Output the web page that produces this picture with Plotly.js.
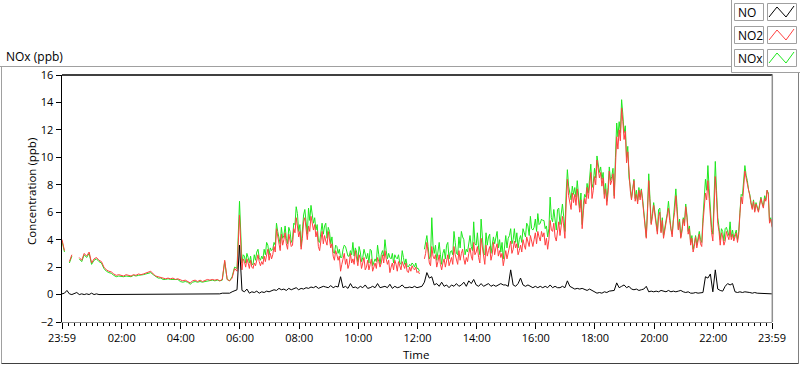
<!DOCTYPE html>
<html>
<head>
<meta charset="utf-8">
<script src="https://cdn.plot.ly/plotly-3.0.1.min.js"></script>
<style>
  html, body { margin: 0; padding: 0; background: #fff; }
  #chart { width: 800px; height: 365px; }
</style>
</head>
<body>
<div id="chart"></div>
<script>
// ---- Data (5-minute samples starting at 23:59; extra half-step samples read for the noisy part) ----
const startLabel = '23:59';
const stepMinutes = 5;
const seriesNames = ['NO', 'NO2', 'NOx'];
const tickLabels = ['23:59','02:00','04:00','06:00','08:00','10:00','12:00','14:00','16:00','18:00','20:00','22:00','23:59'];

const no2 = [
  4.0, 3.2, null, 2.4, 2.9, null, null, 2.7, 2.5, 3.0,
  2.8, 3.1, 2.3, 2.6, 2.7, 2.5, 2.4, 2.0, 1.8, 1.7,
  1.65, 1.5, 1.4, 1.45, 1.4, 1.35, 1.45, 1.4, 1.35, 1.45,
  1.4, 1.5, 1.45, 1.5, 1.55, 1.6, 1.7, 1.5, 1.35, 1.3,
  1.25, 1.2, 1.15, 1.2, 1.15, 1.2, 1.1, 1.15, 1.05, 1.0,
  1.05, 0.95, 0.85, 1.0, 1.05, 0.95, 1.05, 0.95, 1.0, 1.1,
  1.05, 1.1, 1.05, 1.1, 1.0, 1.1, 2.5, 1.1, 1.0, 1.2,
  1.9, 1.7, 5.8, 1.8, 2.4, 2.6, 1.9, 2.0, 2.3, 2.6,
  2.4, 2.4, 2.8, 2.9, 2.5, 2.6, 3.5, 4.8, 3.7, 4.4,
  4.0, 3.7, 4.4, 3.5, 4.8, 5.6, 4.2, 3.3, 5.3, 4.6,
  5.0, 5.7, 4.7, 4.2, 3.5, 4.2, 3.7, 3.9, 4.6, 3.4,
  2.8, 3.2, 2.5, 1.7, 2.7, 2.2, 1.9, 3.0, 2.6, 3.2,
  2.1, 2.6, 2.3, 1.8, 2.5, 2.2, 1.7, 2.3, 2.7, 2.0,
  2.9, 3.2, 2.2, 1.6, 2.3, 2.5, 1.7, 2.1, 2.4, 1.9,
  1.7, 2.0, 2.1, 1.8, 1.6, 1.5, null, 2.6, 3.8, 2.3,
  3.5, 2.6, 2.0, 2.9, 1.8, 2.6, 2.5, 2.1, 2.7, 3.5,
  2.5, 3.2, 3.0, 2.6, 2.7, 3.0, 2.8, 3.8, 3.1, 2.7,
  4.1, 2.6, 3.6, 3.2, 2.5, 3.8, 3.4, 2.8, 2.7, 2.1,
  3.2, 3.1, 3.9, 3.3, 3.4, 2.9, 3.6, 4.0, 3.3, 3.9,
  4.3, 3.5, 4.5, 4.6, 3.9, 4.2, 3.6, 3.3, 5.4, 4.6,
  4.2, 4.9, 4.3, 5.7, 4.1, 8.4, 6.8, 7.4, 7.3, 7.7,
  6.0, 4.8, 7.0, 7.8, 8.0, 7.0, 8.6, 9.8, 8.5, 7.9,
  7.0, 6.5, 9.0, 8.3, 7.0, 11.5, 12.0, 13.6, 11.3, 9.6,
  8.4, 6.9, 8.3, 7.3, 7.6, 7.6, 5.9, 4.1, 8.3, 5.1,
  6.5, 4.9, 5.7, 4.5, 4.1, 5.0, 6.3, 4.6, 5.4, 7.2,
  4.7, 4.1, 5.5, 6.4, 4.4, 3.6, 3.1, 4.2, 4.0, 3.7,
  5.2, 7.4, 8.3, 5.6, 3.9, 8.6, 5.2, 3.6, 4.2, 3.9,
  4.3, 4.7, 4.4, 4.2, 3.8, 5.9, 6.6, 9.0, 8.1, 7.2,
  6.2, 6.0, 6.3, 6.5, 6.6, 7.0, 7.6, 5.2, 4.9
];

const nox = [
  3.9, 3.1, null, 2.3, 2.8, null, null, 2.6, 2.4, 2.9,
  2.7, 3.0, 2.2, 2.5, 2.6, 2.4, 2.3, 1.9, 1.7, 1.6,
  1.55, 1.4, 1.3, 1.35, 1.3, 1.3, 1.35, 1.3, 1.3, 1.4,
  1.35, 1.4, 1.4, 1.45, 1.5, 1.55, 1.6, 1.45, 1.3, 1.2,
  1.2, 1.1, 1.1, 1.15, 1.1, 1.1, 1.05, 1.1, 0.95, 0.9,
  0.95, 0.9, 0.75, 0.9, 0.95, 0.9, 0.95, 0.9, 0.95, 1.0,
  1.0, 1.05, 1.0, 1.05, 1.0, 1.05, 2.4, 1.1, 1.0, 1.3,
  2.0, 1.9, 6.8, 2.3, 2.8, 3.0, 2.3, 2.2, 2.9, 3.1,
  2.7, 2.8, 3.3, 3.8, 2.9, 3.2, 3.8, 5.2, 4.0, 4.9,
  4.3, 4.1, 4.9, 3.8, 5.2, 6.4, 4.6, 3.5, 5.8, 5.0,
  6.3, 6.5, 5.2, 4.7, 3.9, 4.6, 4.4, 5.2, 4.9, 3.7,
  3.1, 3.6, 3.0, 2.7, 3.3, 3.5, 2.8, 3.2, 3.8, 3.4,
  2.4, 3.1, 2.7, 2.9, 3.0, 3.3, 2.1, 2.6, 3.6, 2.2,
  3.2, 4.0, 2.6, 2.7, 3.0, 2.9, 2.6, 2.3, 3.2, 2.2,
  2.1, 2.2, 2.3, 2.0, 1.9, 1.7, null, 3.3, 4.3, 2.6,
  5.6, 3.0, 2.5, 3.8, 2.2, 3.3, 3.6, 2.6, 3.2, 4.6,
  3.0, 4.2, 4.6, 4.0, 3.3, 3.6, 3.5, 5.3, 3.6, 3.4,
  5.5, 3.0, 4.5, 4.2, 3.0, 4.2, 4.2, 3.4, 3.1, 2.6,
  4.3, 4.1, 4.8, 4.0, 3.8, 3.4, 4.3, 4.8, 4.2, 5.0,
  5.7, 4.7, 5.5, 5.9, 5.2, 5.4, 4.8, 4.2, 7.1, 5.3,
  5.2, 6.2, 5.1, 6.6, 4.6, 9.1, 7.3, 7.9, 7.8, 8.3,
  6.3, 5.1, 7.3, 8.1, 8.9, 7.8, 9.2, 10.1, 8.9, 8.4,
  7.3, 6.8, 9.3, 8.6, 7.2, 12.5, 12.6, 14.2, 11.8, 10.0,
  8.5, 7.0, 8.4, 7.6, 7.8, 7.7, 6.0, 4.2, 8.8, 5.2,
  6.7, 5.0, 6.2, 4.6, 4.3, 5.2, 6.8, 4.8, 5.6, 7.7,
  4.8, 4.2, 5.6, 6.6, 4.6, 3.8, 3.3, 4.3, 4.2, 4.0,
  5.6, 8.4, 9.4, 6.1, 4.4, 9.7, 5.6, 4.0, 4.6, 4.8,
  4.5, 5.3, 4.7, 4.4, 4.0, 6.0, 7.2, 9.4, 8.3, 7.3,
  6.3, 6.1, 6.4, 6.6, 6.7, 7.2, 7.6, 5.3, 5.0
];

const no = [
  0.05, 0.1, 0.3, 0.05, 0.0, 0.05, 0.15, 0.0, 0.05, 0.0,
  0.05, 0.0, 0.1, 0.0, 0.05, 0.0, 0.0, 0.05, 0.0, 0.0,
  0.0, 0.0, 0.0, 0.0, 0.0, 0.0, 0.0, 0.0, 0.0, 0.0,
  0.05, 0.0, 0.05, 0.0, 0.0, 0.05, 0.0, 0.05, 0.0, 0.0,
  0.05, 0.0, 0.0, 0.0, 0.05, 0.0, 0.0, 0.0, 0.05, 0.0,
  0.0, 0.05, 0.05, 0.0, 0.05, 0.0, 0.05, 0.0, 0.0, 0.05,
  0.0, 0.0, 0.05, 0.0, 0.05, 0.1, 0.1, 0.15, 0.1, 0.2,
  0.25, 0.35, 3.6, 0.3, 0.2, 0.4, 0.1, 0.2, 0.15, 0.25,
  0.1, 0.2, 0.15, 0.25, 0.2, 0.3, 0.35, 0.3, 0.45, 0.35,
  0.4, 0.3, 0.45, 0.35, 0.4, 0.5, 0.35, 0.45, 0.4, 0.5,
  0.45, 0.55, 0.5, 0.6, 0.45, 0.5, 0.6, 0.55, 0.5, 0.65,
  0.5, 0.6, 0.55, 1.3, 0.5, 0.6, 0.45, 0.8, 0.5, 0.55,
  0.45, 0.6, 0.5, 0.7, 0.45, 0.5, 0.6, 0.5, 0.8, 0.5,
  0.55, 0.6, 0.5, 0.75, 0.45, 0.6, 0.5, 0.55, 0.7, 0.5,
  0.5, 0.55, 0.5, 0.6, 0.5, 0.55, 0.6, 0.9, 1.6, 1.2,
  1.3, 0.7, 0.8, 0.6, 0.9, 0.6, 0.7, 0.5, 0.7, 0.6,
  0.8, 0.6, 0.7, 0.9, 0.6, 1.0, 0.8, 1.1, 0.7, 0.6,
  0.8, 0.6, 0.7, 0.8, 0.6, 0.7, 0.6, 0.7, 0.8, 0.7,
  0.7, 0.6, 1.8, 0.7, 0.6, 0.8, 1.2, 0.7, 0.6, 0.7,
  0.6, 0.5, 0.6, 0.5, 0.6, 0.5, 0.6, 0.5, 0.7, 0.5,
  0.6, 0.5, 0.5, 0.6, 0.5, 1.0, 0.6, 0.5, 0.4, 0.45,
  0.4, 0.45, 0.35, 0.3, 0.4, 0.3, 0.2, 0.1, 0.15, 0.1,
  0.2, 0.15, 0.25, 0.3, 0.3, 0.85, 0.5, 0.6, 0.7, 0.5,
  0.6, 0.4, 0.35, 0.4, 0.3, 0.35, 0.4, 0.6, 0.2, 0.25,
  0.2, 0.25, 0.2, 0.3, 0.25, 0.2, 0.3, 0.2, 0.25, 0.2,
  0.25, 0.3, 0.2, 0.15, 0.2, 0.1, 0.1, 0.15, 0.1, 0.1,
  0.15, 1.3, 1.2, 1.5, 0.2, 1.8, 0.4, 0.3, 0.25, 0.6,
  0.8, 0.7, 0.8, 0.2, 0.15, 0.2, 0.15, 0.2, 0.2, 0.15,
  0.1, 0.15, 0.1, 0.1, 0.05, 0.1, 0.05, 0.1, 0.05
];

// half-step samples (at +2.5 min) from sample index 73 onward
const midStart = 73;
const no2Mid = [
  2.6, 2.0, 2.3, 2.5, 1.9, 2.1, 2.9, 2.1, 2.2,
  2.4, 3.3, 3.0, 2.9, 3.1, 4.2, 3.2, 3.6, 4.5, 3.3,
  4.0, 3.6, 4.5, 5.0, 4.6, 4.1, 5.6, 4.0, 4.6, 5.2,
  5.1, 4.6, 3.2, 4.6, 4.3, 3.6, 4.1, 3.7, 2.5, 2.9,
  2.8, 2.2, 3.0, 2.6, 2.2, 2.3, 2.2, 2.7, 2.9, 1.9,
  2.7, 2.0, 1.8, 2.6, 2.0, 1.9, 2.4, 2.3, 2.3, 2.6,
  2.5, 2.0, 1.8, 2.2, 2.4, 1.8, 2.2, 2.3, 1.6, 1.7,
  1.9, 2.0, 1.7, null, null, 3.0, 2.9, 2.1, 2.8, 2.9,
  2.4, 2.2, 2.3, 2.0, 2.9, 2.4, 2.2, 2.9, 2.2, 2.5,
  3.3, 2.2, 2.4, 3.4, 2.5, 2.9, 3.5, 2.3, 3.4, 2.2,
  2.8, 3.5, 2.9, 2.9, 3.7, 3.2, 3.0, 2.6, 2.6, 3.4,
  3.0, 3.9, 3.7, 3.2, 3.1, 3.6, 4.2, 3.5, 3.9, 4.0,
  3.7, 4.2, 4.6, 4.5, 4.1, 4.0, 4.7, 5.2, 3.9, 5.3,
  4.9, 5.0, 6.6, 7.2, 6.2, 6.7, 6.5, 6.8, 6.9, 6.1,
  6.6, 7.0, 8.9, 7.6, 8.0, 9.0, 8.9, 8.5, 7.7, 7.4,
  8.0, 8.8, 9.3, 10.6, 11.2, 12.6, 11.9, 10.4, 7.6, 7.5,
  6.8, 6.6, 6.9, 6.8, 5.2, 6.0, 6.7, 5.7, 5.8, 4.4,
  6.0, 5.4, 4.6, 5.6, 5.4, 4.2, 6.0, 6.1, 5.3, 4.6,
  5.0, 5.6, 4.8, 4.1, 3.5, 3.4, 4.4, 3.5, 6.3, 6.9,
  7.0, 4.5, 6.2, 7.1, 4.6, 4.5, 3.6, 4.6, 4.0, 4.0,
  3.9, 4.5, 4.4, 7.1, 7.8, 8.5, 7.5, 6.6, 6.8, 6.6,
  6.0, 7.0, 6.3, 6.8, 7.3, 5.5
];
const noxMid = [
  2.9, 2.3, 2.7, 2.8, 2.2, 2.5, 3.3, 2.5, 2.6,
  2.9, 3.6, 3.4, 3.3, 3.6, 4.6, 3.7, 4.1, 5.0, 3.7,
  4.6, 4.0, 5.1, 5.9, 5.1, 4.6, 6.2, 4.4, 5.4, 6.0,
  5.6, 5.1, 3.8, 5.2, 5.0, 4.1, 4.6, 4.2, 3.0, 3.5,
  3.3, 2.7, 3.6, 3.1, 2.8, 2.9, 2.8, 3.1, 3.5, 2.4,
  3.3, 2.6, 2.3, 3.2, 2.4, 2.4, 2.9, 2.9, 2.8, 3.2,
  3.0, 2.6, 2.3, 2.7, 2.9, 2.2, 2.7, 2.6, 2.0, 2.1,
  2.2, 2.3, 1.9, null, null, 3.7, 3.5, 2.8, 3.6, 3.6,
  3.1, 2.9, 3.0, 2.6, 3.8, 3.1, 2.9, 3.8, 2.9, 3.4,
  4.2, 2.9, 3.1, 4.3, 3.2, 3.7, 4.5, 2.9, 4.4, 2.9,
  3.6, 4.4, 3.6, 3.7, 4.6, 4.0, 3.8, 3.3, 3.4, 4.3,
  3.7, 4.8, 4.5, 4.0, 3.8, 4.5, 5.2, 4.3, 4.8, 4.9,
  4.6, 5.1, 5.5, 5.4, 5.0, 4.8, 5.6, 6.2, 4.7, 6.3,
  5.8, 5.7, 7.4, 7.9, 6.9, 7.3, 7.1, 7.4, 7.4, 6.6,
  7.1, 7.4, 9.5, 8.1, 8.5, 9.4, 9.3, 8.9, 8.1, 7.8,
  8.3, 9.2, 10.0, 11.5, 11.8, 13.1, 12.3, 10.8, 7.9, 7.7,
  7.0, 6.8, 7.1, 7.0, 5.4, 6.3, 7.0, 5.9, 6.0, 4.6,
  6.3, 5.6, 4.8, 5.9, 5.7, 4.4, 6.4, 6.4, 5.5, 4.8,
  5.2, 5.8, 5.0, 4.3, 3.7, 3.6, 4.6, 3.8, 7.0, 7.6,
  7.7, 4.9, 6.8, 7.6, 4.9, 4.8, 3.9, 4.9, 4.3, 4.2,
  4.1, 4.7, 4.6, 7.3, 8.1, 8.7, 7.6, 6.7, 6.9, 6.7,
  6.1, 7.1, 6.4, 6.9, 7.4, 5.6
];

// elapsed hours since 23:59
const sampleHours = no2.map((_, i) => i * stepMinutes / 60);
const tickHours = [0, 2 + 1/60, 4 + 1/60, 6 + 1/60, 8 + 1/60, 10 + 1/60, 12 + 1/60, 14 + 1/60, 16 + 1/60, 18 + 1/60, 20 + 1/60, 22 + 1/60, 24];

function merge(base, mids) {
  const xs = [], ys = [];
  base.forEach((v, i) => {
    xs.push(sampleHours[i]); ys.push(v);
    const k = i - midStart;
    if (k >= 0 && k < mids.length) { xs.push((i + 0.5) * stepMinutes / 60); ys.push(mids[k]); }
  });
  return { xs, ys };
}
const no2All = merge(no2, no2Mid);
const noxAll = merge(nox, noxMid);

// ---- Layout helpers (pixel -> paper) ----
const W = 800, H = 365;
const L = 62, R = 772, T = 75, B = 322;
const px = x => (x - L) / (R - L);
const py = y => (B - y) / (B - T);

const FONT = '"Segoe UI", "Open Sans", "Noto Sans", sans-serif';
const colors = { NO: '#000000', NO2: '#ff4040', NOx: '#1ee81e' };

const traces = [
  { x: noxAll.xs, y: noxAll.ys, name: 'NOx', type: 'scatter', mode: 'lines', line: { color: colors.NOx, width: 1 }, connectgaps: false, hoverinfo: 'skip' },
  { x: no2All.xs, y: no2All.ys, name: 'NO2', type: 'scatter', mode: 'lines', line: { color: colors.NO2, width: 1 }, connectgaps: false, hoverinfo: 'skip' },
  { x: sampleHours, y: no, name: 'NO', type: 'scatter', mode: 'lines', line: { color: colors.NO, width: 1 }, connectgaps: false, hoverinfo: 'skip' }
];

const shapes = [];
const annotations = [];
const line = (x0, y0, x1, y1, color, w) => shapes.push({ type: 'line', xref: 'paper', yref: 'paper', x0: px(x0), y0: py(y0), x1: px(x1), y1: py(y1), line: { color, width: w || 1 }, layer: 'above' });
const rect = (x0, y0, x1, y1, color, fill) => shapes.push({ type: 'rect', xref: 'paper', yref: 'paper', x0: px(x0), y0: py(y0), x1: px(x1), y1: py(y1), line: { color, width: 1 }, fillcolor: fill || 'rgba(0,0,0,0)', layer: 'above' });

// outer frame
line(0, 66.5, 731, 66.5, '#a0a0a0');
line(1.5, 66.5, 1.5, 363.5, '#a0a0a0');
line(1.5, 363.5, 799, 363.5, '#404040');
line(798.5, 72, 798.5, 364, '#808080');
// legend panel
line(731.5, 0, 731.5, 72.5, '#a0a0a0');
line(731.5, 72.5, 800, 72.5, '#a0a0a0');
// plot area frame top/right
line(62, 75, 772.5, 75, '#000000', 1.5);
line(772.3, 75, 772.3, 322, '#909090', 1.5);

// legend items
const rowsY = [3, 26, 49];
seriesNames.forEach((name, k) => {
  const y0 = rowsY[k];
  rect(734.5, y0 + 0.5, 763.5, y0 + 17.5, '#a0a0a0', '#ffffff');
  rect(767.5, y0 + 0.5, 796.5, y0 + 17.5, '#a0a0a0', '#ffffff');
  shapes.push({
    type: 'path', xref: 'paper', yref: 'paper', layer: 'above',
    path: `M ${px(769)} ${py(y0 + 14)} L ${px(777)} ${py(y0 + 4)} L ${px(786)} ${py(y0 + 14)} L ${px(794)} ${py(y0 + 3)}`,
    line: { color: colors[name], width: 1 }
  });
  annotations.push({ xref: 'paper', yref: 'paper', x: px(736), y: py(y0 + 9.5), xanchor: 'left', yanchor: 'middle', text: name, showarrow: false, font: { family: FONT, size: 12, color: '#000' } });
});

// titles
annotations.push({ xref: 'paper', yref: 'paper', x: px(4), y: py(56), xanchor: 'left', yanchor: 'middle', text: 'NOx (ppb)', showarrow: false, font: { family: FONT, size: 12, color: '#000' } });
annotations.push({ xref: 'paper', yref: 'paper', x: px(31.5), y: py(191.5), xanchor: 'center', yanchor: 'middle', textangle: -90, text: 'Concentration (ppb)', showarrow: false, font: { family: FONT, size: 11.5, color: '#000' } });
annotations.push({ xref: 'paper', yref: 'paper', x: px(416), y: py(354), xanchor: 'center', yanchor: 'middle', text: 'Time', showarrow: false, font: { family: FONT, size: 11.5, color: '#000' } });

const layout = {
  width: W, height: H,
  margin: { l: L, r: W - R, t: T, b: H - B, pad: 0 },
  paper_bgcolor: '#ffffff', plot_bgcolor: '#ffffff',
  showlegend: false,
  font: { family: FONT, size: 11, color: '#000' },
  xaxis: {
    range: [0, 24], tickmode: 'array', tickvals: tickHours, ticktext: tickLabels,
    showgrid: false, zeroline: false, showline: true, linecolor: '#909090', linewidth: 1,
    ticks: 'outside', ticklen: 6, tickcolor: '#000', tickwidth: 1,
    tickfont: { family: FONT, size: 11, color: '#000' },
    minor: { ticks: 'outside', ticklen: 3, tickcolor: '#000', tickwidth: 1, dtick: 0.2, tick0: 1/60, showgrid: false },
    fixedrange: true
  },
  yaxis: {
    range: [-2, 16], tickmode: 'linear', tick0: -2, dtick: 2,
    showgrid: false, zeroline: false, showline: true, linecolor: '#000', linewidth: 1.5,
    ticks: 'outside', ticklen: 5, tickcolor: '#000', tickwidth: 1,
    tickfont: { family: FONT, size: 11, color: '#000' },
    fixedrange: true
  },
  shapes, annotations
};

Plotly.newPlot('chart', traces, layout, { displayModeBar: false, staticPlot: true });
</script>
</body>
</html>
